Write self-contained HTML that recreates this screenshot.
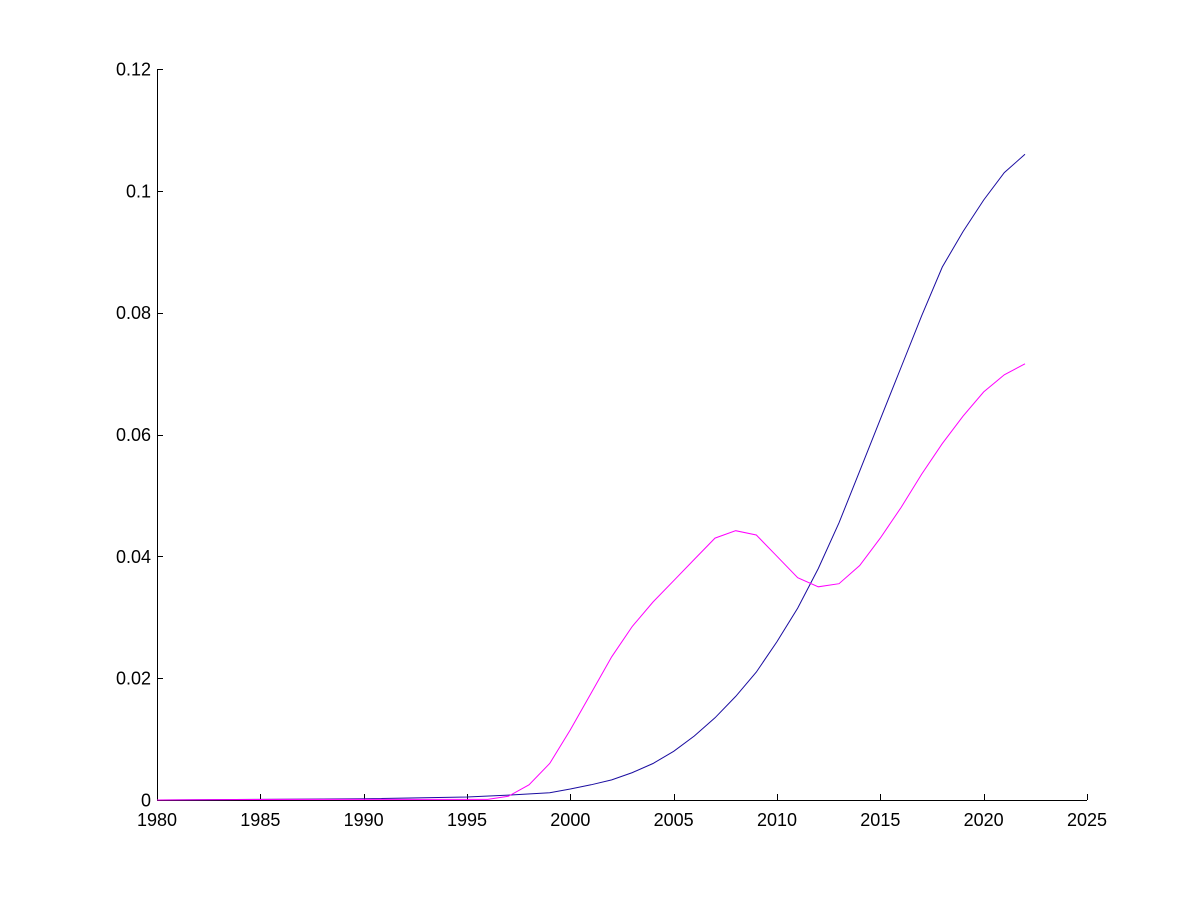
<!DOCTYPE html>
<html><head><meta charset="utf-8"><style>
html,body{margin:0;padding:0;background:#fff;}
svg{display:block;font-family:"Liberation Sans",sans-serif;}
</style></head><body>
<svg id="s" width="1200" height="900" xmlns="http://www.w3.org/2000/svg">
<rect width="1200" height="900" fill="#fff"/>
<g stroke="#000" stroke-width="1" fill="none" shape-rendering="crispEdges">
<line x1="157.5" y1="69" x2="157.5" y2="800"/>
<line x1="157" y1="800.5" x2="1087" y2="800.5"/>
</g>
<g id="ticks" stroke="#000" shape-rendering="crispEdges"></g>
<g id="lbl" font-size="18" fill="#000"></g>
<polyline id="b" fill="none" stroke="#1a0ca0" stroke-width="1"/>
<polyline id="m" fill="none" stroke="#ff00ff" stroke-width="1"/>
</svg>
<script>
var X=function(y){return 157+(y-1980)*930/45;},Y=function(v){return 800-v*731/0.12;};
var t=document.getElementById('ticks'),l=document.getElementById('lbl'),ns='http://www.w3.org/2000/svg';
function el(p,n,a,txt){var e=document.createElementNS(ns,n);for(var k in a)e.setAttribute(k,a[k]);if(txt)e.textContent=txt;p.appendChild(e);}
for(var y=1980;y<=2025;y+=5){var x=Math.round(X(y))+0.5;el(t,'line',{x1:x,y1:800,x2:x,y2:794});el(l,'text',{x:X(y),y:826,'text-anchor':'middle'},''+y);}
var yl=['0','0.02','0.04','0.06','0.08','0.1','0.12'];
for(var i=0;i<7;i++){var yy=Math.round(Y(i*0.02))+0.5;el(t,'line',{x1:157,y1:yy,x2:163,y2:yy});el(l,'text',{x:151,y:Y(i*0.02)+6.5,'text-anchor':'end'},yl[i]);}
var B={1980:0,1985:0.0001,1990:0.0002,1995:0.0005,1997:0.0008,1999:0.0012,2000:0.0018,2001:0.0025,2002:0.0033,2003:0.0045,2004:0.006,2005:0.008,2006:0.0105,2007:0.0135,2008:0.017,2009:0.021,2010:0.026,2011:0.0315,2012:0.038,2013:0.0455,2014:0.054,2015:0.0625,2016:0.071,2017:0.0795,2018:0.0875,2019:0.0933,2020:0.0985,2021:0.103,2022:0.106};
var M={1980:0,1986:0.0001,1996:0.0001,1997:0.0006,1998:0.0025,1999:0.006,2000:0.0115,2001:0.0175,2002:0.0235,2003:0.0285,2004:0.0325,2005:0.036,2006:0.0395,2007:0.043,2008:0.0442,2009:0.0435,2010:0.040,2011:0.0365,2012:0.035,2013:0.0355,2014:0.0385,2015:0.043,2016:0.048,2017:0.0535,2018:0.0585,2019:0.063,2020:0.067,2021:0.0698,2022:0.0716};
function pts(o){return Object.keys(o).map(function(k){return X(+k).toFixed(1)+','+Y(o[k]).toFixed(1);}).join(' ');}
document.getElementById('b').setAttribute('points',pts(B));
document.getElementById('m').setAttribute('points',pts(M));
</script>
</body></html>
